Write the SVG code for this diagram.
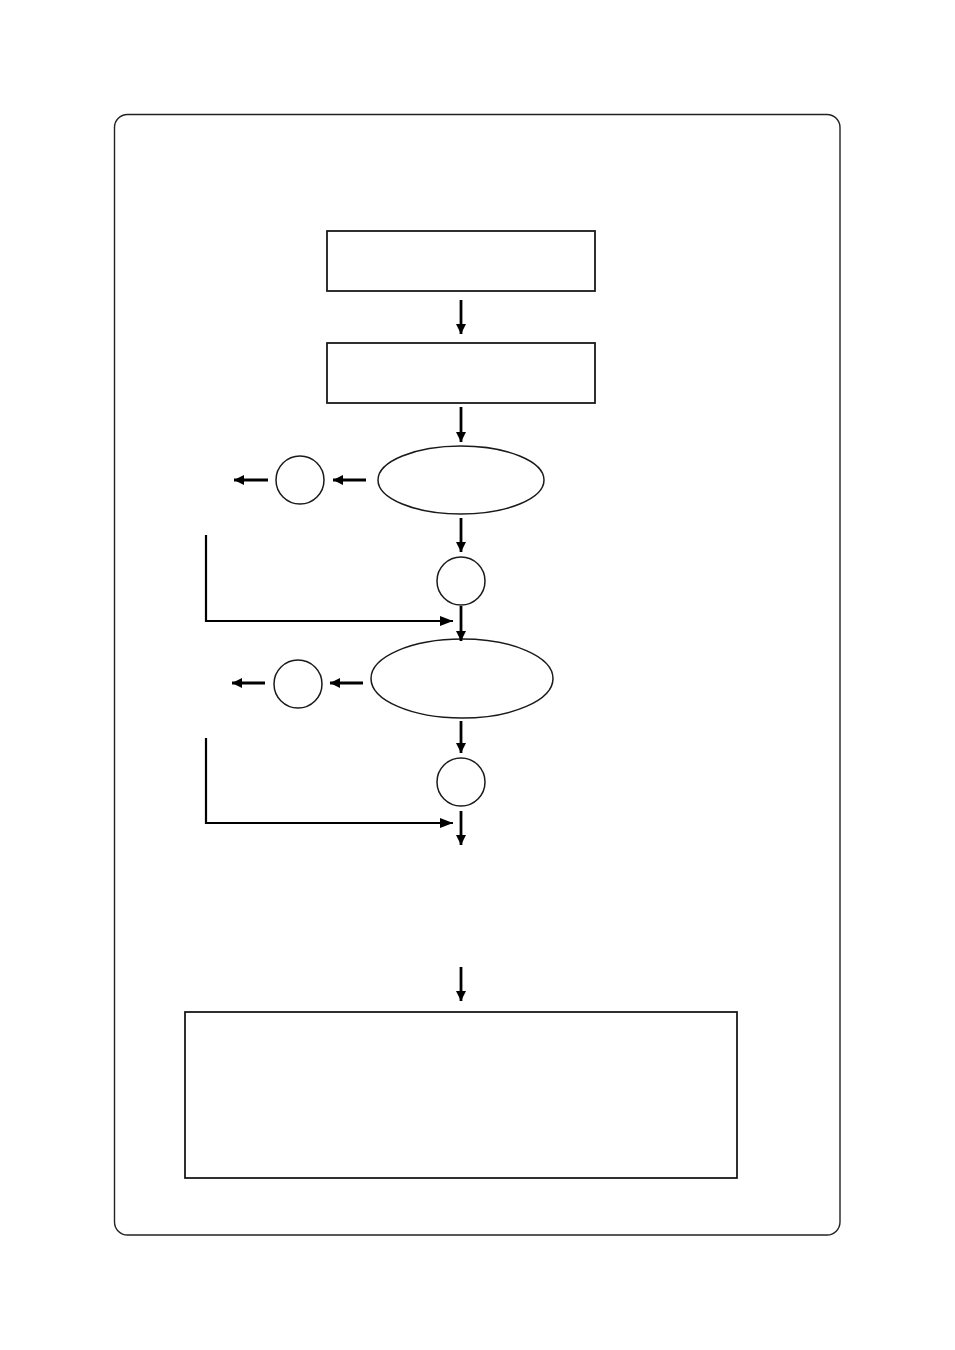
<svg xmlns="http://www.w3.org/2000/svg" width="955" height="1350" viewBox="0 0 955 1350">
<style>
.frame{fill:none;stroke:#222;stroke-width:1.4}
.box{fill:#fff;stroke:#1a1a1a;stroke-width:1.8}
.node{fill:#fff;stroke:#1a1a1a;stroke-width:1.5}
.arr{fill:none;stroke:#000;stroke-width:2.8;marker-end:url(#ah)}
.lk{fill:none;stroke:#000;stroke-width:2.2;marker-end:url(#ah2)}
</style>
<defs>
<marker id="ah" markerUnits="userSpaceOnUse" markerWidth="12" markerHeight="12" refX="10" refY="5.5" orient="auto">
<path d="M0,0.5 L10,5.5 L0,10.5 z" fill="#000"/>
</marker>
<marker id="ah2" markerUnits="userSpaceOnUse" markerWidth="14" markerHeight="12" refX="13" refY="6" orient="auto">
<path d="M0,1 L13,6 L0,11 z" fill="#000"/>
</marker>
</defs>
<rect class="frame" x="114.5" y="114.5" width="725.5" height="1120.5" rx="13" ry="13"/>
<g id="box1"><rect class="box" x="327" y="231" width="268" height="60"/></g>
<g id="box2"><rect class="box" x="327" y="343" width="268" height="60"/></g>
<g id="ellipse1"><ellipse class="node" cx="461" cy="480" rx="83" ry="34"/></g>
<g id="circle1"><circle class="node" cx="300" cy="480" r="24"/></g>
<g id="circle2"><circle class="node" cx="461" cy="581" r="24"/></g>
<g id="ellipse2"><ellipse class="node" cx="462" cy="678.5" rx="91" ry="39.5"/></g>
<g id="circle3"><circle class="node" cx="298" cy="684" r="24"/></g>
<g id="circle4"><circle class="node" cx="461" cy="782" r="24"/></g>
<g id="box3"><rect class="box" x="185" y="1012" width="552" height="166"/></g>
<g id="connectors">
<line class="arr" x1="461" y1="300" x2="461" y2="334"/>
<line class="arr" x1="461" y1="407" x2="461" y2="442"/>
<line class="arr" x1="366" y1="480" x2="333" y2="480"/>
<line class="arr" x1="268" y1="480" x2="234" y2="480"/>
<line class="arr" x1="461" y1="518" x2="461" y2="552"/>
<line class="arr" x1="461" y1="606" x2="461" y2="641"/>
<polyline class="lk" points="206,535 206,621 453,621"/>
<line class="arr" x1="363" y1="683" x2="330" y2="683"/>
<line class="arr" x1="265" y1="683" x2="232" y2="683"/>
<line class="arr" x1="461" y1="721" x2="461" y2="753"/>
<line class="arr" x1="461" y1="811" x2="461" y2="845"/>
<polyline class="lk" points="206,738 206,823 453,823"/>
<line class="arr" x1="461" y1="967" x2="461" y2="1001"/>
</g>
</svg>
